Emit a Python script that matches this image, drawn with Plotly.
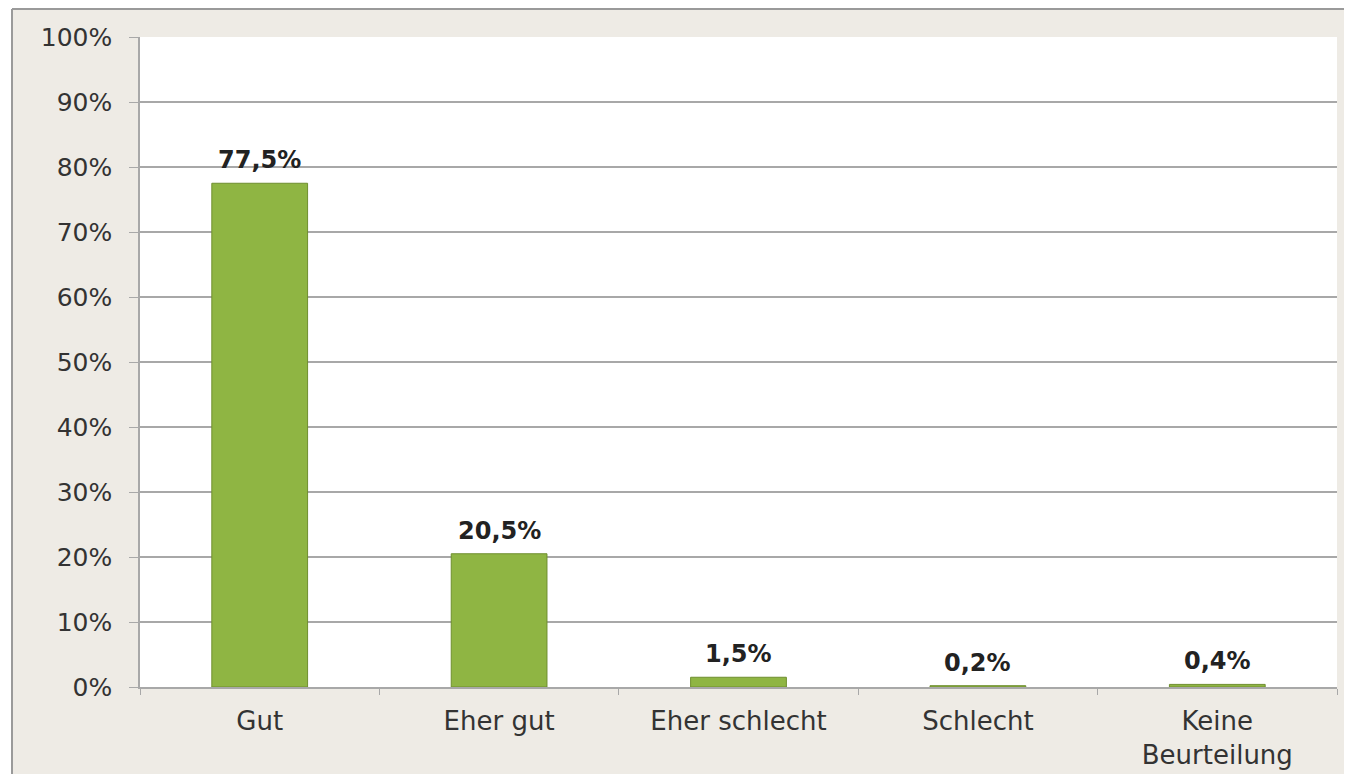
import plotly.graph_objects as go

categories = ["Gut", "Eher gut", "Eher schlecht", "Schlecht", "Keine<br>Beurteilung"]
values = [77.5, 20.5, 1.5, 0.2, 0.4]
y_ticks = [0, 10, 20, 30, 40, 50, 60, 70, 80, 90, 100]
y_tick_labels = [f"{v}%" for v in y_ticks]
value_labels = [f"{v:.1f}%".replace(".", ",") for v in values]

# page body has an 8px margin, so the figure is slightly smaller than the window
W, H = 1344, 766
L, R, T, B = 132, 15, 29, 87
pw, ph = W - L - R, H - T - B

def px_x(x):
    return (x - L) / pw

def px_y(y):
    return (H - B - y) / ph

font_family = "DejaVu Sans, Liberation Sans, Arial, sans-serif"

fig = go.Figure()
fig.add_trace(go.Bar(
    x=categories,
    y=values,
    marker=dict(color="#8FB543", line=dict(color="#6F8F2F", width=1)),
    width=0.4,
    hoverinfo="x+y",
))

for cat, val, lab in zip(categories, values, value_labels):
    fig.add_annotation(
        x=cat, y=val, text=lab, showarrow=False,
        xref="x", yref="y", yanchor="bottom", yshift=7,
        font=dict(family=font_family, size=24, color="#222222", weight="bold"),
    )

fig.update_layout(
    width=W, height=H,
    margin=dict(l=L, r=R, t=T, b=B, autoexpand=False),
    paper_bgcolor="#EEEBE5",
    plot_bgcolor="#FFFFFF",
    showlegend=False,
    bargap=0.6,
    font=dict(family=font_family, size=25, color="#333333"),
    shapes=[
        dict(type="rect", xref="paper", yref="paper", layer="below",
             x0=px_x(-5), x1=px_x(4), y0=px_y(H + 5), y1=px_y(-5),
             fillcolor="#FFFFFF", line=dict(width=0)),
        dict(type="line", xref="paper", yref="paper", layer="above",
             x0=px_x(4), x1=px_x(W + 5), y0=px_y(1), y1=px_y(1),
             line=dict(color="#9A9A9A", width=2)),
        dict(type="line", xref="paper", yref="paper", layer="above",
             x0=px_x(4), x1=px_x(4), y0=px_y(1), y1=px_y(H + 5),
             line=dict(color="#9A9A9A", width=2)),
    ],
)

fig.update_yaxes(
    range=[0, 100],
    tickvals=y_ticks,
    ticktext=y_tick_labels,
    showgrid=True,
    gridcolor="#A8A8A8",
    gridwidth=1.5,
    showline=True,
    linecolor="#A8A8A8",
    linewidth=1.5,
    ticks="outside",
    ticklen=9,
    tickcolor="#A8A8A8",
    tickfont=dict(size=25, color="#333333"),
    ticklabelstandoff=12,
    zeroline=False,
    automargin=False,
)
fig.update_xaxes(
    showline=True,
    linecolor="#A8A8A8",
    linewidth=1.5,
    ticks="outside",
    tickson="boundaries",
    ticklen=6,
    tickcolor="#A8A8A8",
    tickfont=dict(size=26, color="#333333"),
    ticklabelstandoff=10,
    showgrid=False,
    automargin=False,
)

fig.write_html("out.html")
